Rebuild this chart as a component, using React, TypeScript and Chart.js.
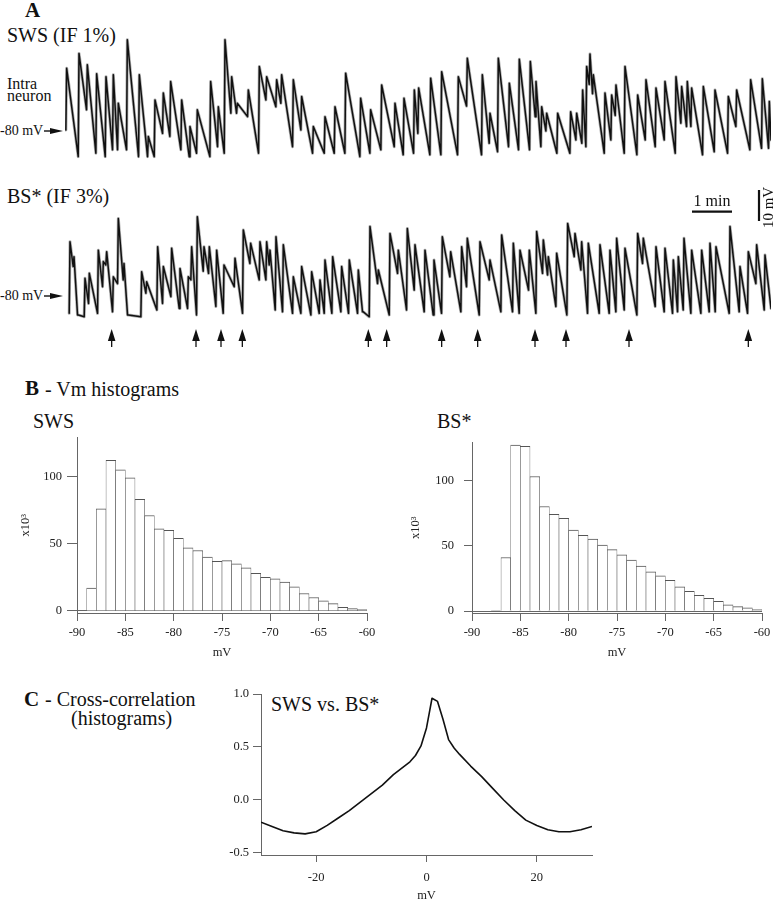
import React, { useEffect, useRef } from "react";
import { Chart, registerables } from "chart.js";

Chart.register(...registerables);

const SERIF = '"Liberation Serif", "Times New Roman", Times, serif';
Chart.defaults.font.family = SERIF;
Chart.defaults.color = "#222";

// ---------- Panel A : intracellular traces ----------
// Each up-state event: onset time (s), peak Vm (mV), Vm just before the rise (mV)
const SWS_UP_T = [2.5,21,33.5,47.5,61.5,72.5,80,93.5,111.5,125,135,147.5,158.5,175,187.5,198.5,218.5,230,240,250,258.5,275,291.5,302.5,317.5,325,342.5,355,372.5,390,405,421,443.5,458.5,475,495,508.5,524,530.5,548.5,565,590,603.5,626,637.5,650,666.5,681.5,698,706.5,715,722.5,739,758.5,767.5,776.5,782.5,787.5,792.5,810,820,826.5,840,859,871.5,886.5,900,916.5,925,933.5,940,957.5,975,995,1007.5,1028.5,1046,1056.5];
const SWS_PEAK = [-59.8,-55.0,-58.7,-61.6,-62.5,-61.9,-71.1,-50.6,-61.9,-81.8,-70.0,-67.8,-64.1,-70.0,-78.6,-73.2,-64.1,-72.2,-50.6,-62.5,-71.1,-66.8,-59.2,-62.5,-63.5,-61.9,-63.5,-68.9,-78.6,-75.4,-72.2,-61.4,-69.5,-73.2,-65.2,-71.1,-69.5,-66.8,-66.2,-63.0,-60.9,-62.5,-56.6,-61.9,-74.3,-56.6,-64.6,-56.9,-57.6,-64.1,-72.2,-74.3,-74.3,-73.8,-74.3,-66.8,-59.2,-55.2,-61.9,-67.8,-68.4,-65.2,-59.2,-68.4,-63.5,-66.2,-64.1,-62.5,-65.7,-64.1,-66.2,-65.7,-66.8,-68.9,-66.8,-63.5,-63.2,-70.5];
const SWS_PRE = [-79.7,-88.3,-73.2,-87.2,-88.3,-86.1,-86.1,-86.1,-88.3,-88.3,-88.3,-80.8,-81.8,-86.1,-88.3,-87.2,-88.3,-85.1,-87.2,-74.3,-74.3,-75.4,-87.2,-70.0,-72.2,-71.1,-85.1,-79.7,-87.2,-87.2,-87.2,-87.2,-88.3,-87.2,-86.1,-85.1,-87.7,-87.2,-80.8,-87.7,-87.7,-87.7,-72.0,-87.7,-84.0,-86.7,-85.1,-86.1,-86.1,-75.4,-85.1,-80.0,-87.2,-87.2,-82.9,-84.0,-85.1,-65.0,-68.0,-87.2,-82.9,-75.0,-87.2,-87.7,-82.9,-85.1,-82.9,-87.2,-77.5,-78.6,-78.6,-87.7,-86.7,-87.2,-78.6,-86.1,-85.6,-85.6];
const SWS_END_VM = -82.9;

const BS_UP_T = [7.5,13.5,20,30,36.5,50,57.5,62.5,72.5,80,88.5,95,115,122.5,139,147.5,160,172.5,185,190,198.5,208.5,216.5,227.5,238.5,255,267.5,278.5,292.5,302.5,307.5,316.5,327.5,342.5,355,370,382.5,390,401.5,415,426.5,440,447.5,457.5,470,487.5,500,513.5,525,540,553.5,566,578.5,595,603.5,622.5,637.5,655,672.5,682.5,696.5,707.5,717.5,725,737.5,754,765,775,785,802.5,817.5,827.5,840,859,867.5,886.5,900,912.5,920,928.5,940,955,967.5,976.5,997.5,1012.5,1025,1037.5,1050];
const BS_PEAK = [-62.5,-67.3,-86.1,-74.3,-72.7,-65.2,-68.9,-65.7,-73.8,-55.0,-69.5,-86.1,-72.2,-75.4,-64.1,-70.5,-64.6,-71.1,-73.8,-64.1,-54.4,-64.1,-64.1,-65.2,-70.0,-67.8,-58.7,-63.0,-62.5,-62.5,-65.2,-60.9,-63.5,-73.8,-70.5,-72.2,-74.8,-68.4,-67.3,-70.5,-68.4,-71.6,-85.1,-57.6,-71.6,-59.8,-65.2,-58.2,-63.5,-65.2,-68.4,-60.9,-65.7,-64.1,-61.4,-62.5,-68.4,-60.3,-63.0,-65.2,-65.2,-59.2,-61.9,-67.3,-66.2,-56.6,-59.8,-62.5,-63.0,-63.5,-65.2,-61.4,-64.6,-59.8,-61.4,-64.1,-64.6,-68.4,-67.3,-61.4,-65.2,-65.2,-63.0,-64.1,-57.6,-70.5,-65.7,-63.5,-66.8];
const BS_PRE = [-85.6,-70.5,-86.1,-86.7,-82.4,-85.6,-77.0,-70.0,-85.1,-76.0,-74.8,-86.1,-86.7,-79.1,-84.5,-82.4,-80.2,-84.0,-84.0,-74.8,-86.1,-72.0,-72.7,-83.4,-85.6,-77.0,-85.6,-69.5,-74.8,-74.8,-70.0,-84.5,-85.1,-85.6,-85.6,-86.1,-85.6,-85.6,-85.6,-85.1,-85.6,-85.6,-85.1,-86.7,-76.0,-86.1,-72.7,-84.5,-78.1,-85.1,-86.1,-85.6,-73.8,-85.1,-77.0,-86.1,-74.8,-85.1,-85.1,-85.6,-78.1,-85.6,-72.7,-73.2,-83.4,-86.1,-67.3,-71.6,-85.6,-85.6,-85.6,-85.1,-84.5,-86.1,-69.5,-83.4,-85.1,-85.6,-85.1,-84.5,-85.6,-85.6,-85.1,-85.1,-85.6,-85.1,-85.6,-76.0,-84.5];
const BS_END_VM = -84.0;

const BS_EVENT_TIMES_S = [70, 196.5, 234, 266, 455, 482.5, 565, 619, 705, 751.5, 846, 1025];

const TRACE_T_MAX = 1059;
const RISE_S = 1.2;
const SCALEBAR_T_START_S = 940.5;
const SCALEBAR_T_LEN_S = 60; // 1 min
const SCALEBAR_H_VM = -52.8;
const SCALEBAR_V_T_S = 1041;
const SCALEBAR_V_TOP_VM = -45.8;
const SCALEBAR_V_LEN_MV = 10; // 10 mV
const REST_VM = -80;

// ---------- Panel B : Vm histograms (1 mV bins, counts x10^3) ----------
const VM_BIN_CENTERS = [-89.5,-88.5,-87.5,-86.5,-85.5,-84.5,-83.5,-82.5,-81.5,-80.5,-79.5,-78.5,-77.5,-76.5,-75.5,-74.5,-73.5,-72.5,-71.5,-70.5,-69.5,-68.5,-67.5,-66.5,-65.5,-64.5,-63.5,-62.5,-61.5,-60.5];
const SWS_HIST = [0,17,76,112,105,99,83,71,61,60,54,47,45,40,37,37.5,35,32,28,25,24,21.5,18,13,10,7.5,5.5,2.7,1.7,1];
const BS_HIST = [0,0,0.5,41,127,126,103,80,74,71,62,58,55,50.5,47,43,39,34.5,30,27,23.5,18.6,15,12,9.7,7.5,4.8,3.4,2.4,1.2];
const HIST_X_TICKS = [-90,-85,-80,-75,-70,-65,-60];
const HIST_Y_TICKS = [0,50,100];

// ---------- Panel C : cross-correlation ----------
const CC_LAG_MV = [-30,-28,-26,-24,-22,-20,-18,-16,-14,-12,-10,-8,-6,-4,-3,-2,-1,0,0.5,1,2,3,4,5,6,8,10,12,14,16,18,20,22,24,26,28,30];
const CC_R = [-0.21,-0.25,-0.29,-0.31,-0.32,-0.30,-0.24,-0.17,-0.10,-0.02,0.06,0.14,0.24,0.32,0.36,0.42,0.51,0.68,0.82,0.96,0.93,0.76,0.57,0.49,0.43,0.32,0.22,0.11,0.00,-0.10,-0.19,-0.24,-0.28,-0.30,-0.30,-0.28,-0.25];
const CC_X_TICKS = [-20,0,20];
const CC_Y_TICKS = [-0.5,0,0.5,1.0];

const AXIS = "#666";

function ChartCanvas(props: { left: number; top: number; width: number; height: number; make: () => any }) {
  const ref = useRef<HTMLCanvasElement | null>(null);
  useEffect(() => {
    const chart = new Chart(ref.current as HTMLCanvasElement, props.make());
    return () => chart.destroy();
  }, []);
  return (
    <canvas
      ref={ref}
      width={props.width}
      height={props.height}
      style={{ position: "absolute", left: props.left, top: props.top, width: props.width, height: props.height }}
    />
  );
}

function tracePoints(upT: number[], peak: number[], pre: number[], endVm: number) {
  const pts: { x: number; y: number }[] = [];
  for (let i = 0; i < upT.length; i++) {
    pts.push({ x: upT[i] - RISE_S, y: pre[i] });
    pts.push({ x: upT[i], y: peak[i] });
  }
  pts.push({ x: TRACE_T_MAX, y: endVm });
  return pts;
}

function traceConfig(pts: { x: number; y: number }[], yMin: number, yMax: number, padRight: number, plugins: any[]) {
  return {
    type: "line",
    data: {
      datasets: [
        { data: pts, borderColor: "#111", borderWidth: 1.5, borderJoinStyle: "round", borderCapStyle: "round", pointRadius: 0, tension: 0, order: 0 },
        { data: pts, borderColor: "rgba(110,110,110,0.55)", borderWidth: 3, borderJoinStyle: "round", borderCapStyle: "round", pointRadius: 0, tension: 0, order: 1 },
      ],
    },
    options: {
      animation: false,
      responsive: false,
      maintainAspectRatio: false,
      layout: { padding: { left: 0, right: padRight, top: 0, bottom: 0 } },
      plugins: { legend: { display: false }, tooltip: { enabled: false } },
      scales: {
        x: { type: "linear", display: false, min: 0, max: TRACE_T_MAX },
        y: { type: "linear", display: false, min: yMin, max: yMax },
      },
    },
    plugins,
  };
}

const bsOverlay = {
  id: "bsOverlay",
  afterDatasetsDraw(chart: any) {
    const { ctx } = chart;
    const xs = chart.scales.x;
    const ys = chart.scales.y;
    ctx.save();
    ctx.fillStyle = "#111";
    ctx.strokeStyle = "#111";
    const base = ys.getPixelForValue(REST_VM);
    for (const t of BS_EVENT_TIMES_S) {
      const px = xs.getPixelForValue(t);
      const tip = base + 33;
      ctx.beginPath();
      ctx.moveTo(px, tip);
      ctx.lineTo(px - 3.8, tip + 12);
      ctx.lineTo(px + 3.8, tip + 12);
      ctx.closePath();
      ctx.fill();
      ctx.lineWidth = 1.3;
      ctx.beginPath();
      ctx.moveTo(px, tip + 10);
      ctx.lineTo(px, tip + 18);
      ctx.stroke();
    }
    // time scale bar
    const x0 = xs.getPixelForValue(SCALEBAR_T_START_S);
    const x1 = xs.getPixelForValue(SCALEBAR_T_START_S + SCALEBAR_T_LEN_S);
    const yb = ys.getPixelForValue(SCALEBAR_H_VM);
    ctx.lineWidth = 2.2;
    ctx.beginPath();
    ctx.moveTo(x0, yb);
    ctx.lineTo(x1, yb);
    ctx.stroke();
    ctx.font = "16px " + SERIF;
    ctx.textAlign = "center";
    ctx.textBaseline = "alphabetic";
    ctx.fillText("1 min", (x0 + x1) / 2, yb - 6);
    // voltage scale bar
    const vx = xs.getPixelForValue(SCALEBAR_V_T_S);
    const vy0 = ys.getPixelForValue(SCALEBAR_V_TOP_VM);
    const vy1 = ys.getPixelForValue(SCALEBAR_V_TOP_VM - SCALEBAR_V_LEN_MV);
    ctx.beginPath();
    ctx.moveTo(vx, vy0);
    ctx.lineTo(vx, vy1);
    ctx.stroke();
    ctx.save();
    ctx.translate(vx + 14, (vy0 + vy1) / 2 + 2);
    ctx.rotate(-Math.PI / 2);
    ctx.font = "15px " + SERIF;
    ctx.fillText("10 mV", 0, 0);
    ctx.restore();
    ctx.restore();
  },
};

function histConfig(counts: number[], tickLen: number, tickPad: number, titlePad: number) {
  return {
    type: "bar",
    data: {
      datasets: [
        {
          data: VM_BIN_CENTERS.map((c, i) => ({ x: c, y: counts[i] })),
          backgroundColor: "#fff",
          borderColor: "#555",
          borderWidth: { top: 1, left: 0.6, right: 0.6, bottom: 0 },
          borderSkipped: false,
          barPercentage: 1,
          categoryPercentage: 1,
        },
      ],
    },
    options: {
      animation: false,
      responsive: false,
      maintainAspectRatio: false,
      layout: { padding: { left: 0, right: 13, top: 8, bottom: 0 } },
      plugins: { legend: { display: false }, tooltip: { enabled: false } },
      scales: {
        x: {
          type: "linear",
          min: -90,
          max: -60,
          offset: false,
          afterBuildTicks: (s: any) => { s.ticks = HIST_X_TICKS.map((v) => ({ value: v })); },
          afterFit: (s: any) => { s.height = 52; },
          grid: { offset: false, drawOnChartArea: false, drawTicks: true, tickLength: 8, tickColor: AXIS },
          border: { display: true, color: AXIS, width: 1 },
          ticks: { font: { size: 12.5 }, padding: 4, maxRotation: 0, autoSkip: false, color: "#222" },
          title: { display: true, text: "mV", font: { size: 12.5 }, padding: { top: 0, bottom: 5 }, color: "#222" },
        },
        y: {
          type: "linear",
          min: -1.5,
          max: 129,
          afterBuildTicks: (s: any) => { s.ticks = HIST_Y_TICKS.map((v) => ({ value: v })); },
          afterFit: (s: any) => { s.width = 77; },
          grid: {
            drawOnChartArea: true,
            color: (c: any) => (c.tick && c.tick.value === 0 ? AXIS : "rgba(0,0,0,0)"),
            tickColor: AXIS,
            tickLength: tickLen,
          },
          border: { display: true, color: AXIS, width: 1 },
          ticks: { font: { size: 12.5 }, padding: tickPad, color: "#222" },
          title: { display: true, text: "x10³", font: { size: 12.5 }, padding: { top: titlePad, bottom: 0 }, color: "#222" },
        },
      },
    },
  };
}

function ccConfig() {
  return {
    type: "line",
    data: {
      datasets: [
        {
          data: CC_LAG_MV.map((l, i) => ({ x: l, y: CC_R[i] })),
          borderColor: "#111",
          borderWidth: 1.6,
          borderJoinStyle: "round",
          pointRadius: 0,
          tension: 0,
        },
      ],
    },
    options: {
      animation: false,
      responsive: false,
      maintainAspectRatio: false,
      layout: { padding: { left: 0, right: 18, top: 14, bottom: 0 } },
      plugins: { legend: { display: false }, tooltip: { enabled: false } },
      scales: {
        x: {
          type: "linear",
          min: -30,
          max: 30,
          afterBuildTicks: (s: any) => { s.ticks = CC_X_TICKS.map((v) => ({ value: v })); },
          afterFit: (s: any) => { s.height = 48; },
          grid: { drawOnChartArea: false, drawTicks: true, tickLength: 7, tickColor: AXIS },
          border: { display: true, color: AXIS, width: 1 },
          ticks: { font: { size: 12.5 }, padding: 8, maxRotation: 0, color: "#222" },
          title: { display: true, text: "mV", font: { size: 12.5 }, padding: { top: 0, bottom: 0 }, color: "#222" },
        },
        y: {
          type: "linear",
          min: -0.519,
          max: 1.0,
          afterBuildTicks: (s: any) => { s.ticks = CC_Y_TICKS.map((v) => ({ value: v })); },
          afterFit: (s: any) => { s.width = 81; },
          grid: { drawOnChartArea: false, drawTicks: true, tickLength: 8, tickColor: AXIS },
          border: { display: true, color: AXIS, width: 1 },
          ticks: { font: { size: 12.5 }, padding: 4, color: "#222", callback: (v: any) => Number(v).toFixed(1) },
        },
      },
    },
  };
}

function Label(p: { text: string; x: number; base: number; size: number; bold?: boolean }) {
  return (
    <div
      style={{
        position: "absolute",
        left: p.x,
        top: p.base - p.size * 0.8375,
        fontSize: p.size,
        lineHeight: 1,
        fontFamily: SERIF,
        fontWeight: p.bold ? "bold" : "normal",
        whiteSpace: "nowrap",
        color: "#111",
      }}
    >
      {p.text}
    </div>
  );
}

function RestArrow(p: { y: number }) {
  return (
    <>
      <Label text="-80 mV" x={0} base={p.y + 5} size={14} />
      <svg style={{ position: "absolute", left: 44, top: p.y - 5 }} width={20} height={10}>
        <line x1={0} y1={5} x2={9} y2={5} stroke="#111" strokeWidth={1.4} />
        <polygon points="6,2 19,5 6,8" fill="#111" />
      </svg>
    </>
  );
}

export default function App() {
  return (
    <div
      style={{
        position: "absolute",
        left: 0,
        top: 0,
        width: 777,
        height: 900,
        overflow: "hidden",
        background: "#fff",
        fontFamily: SERIF,
      }}
    >
      {/* Panel A */}
      <Label text="A" x={25} base={18} size={21} bold />
      <Label text="SWS (IF 1%)" x={7} base={42} size={20} />
      <Label text="Intra" x={7} base={89} size={16} />
      <Label text="neuron" x={7} base={101} size={16} />
      <RestArrow y={131} />
      <ChartCanvas left={65} top={30} width={706} height={135}
        make={() => traceConfig(tracePoints(SWS_UP_T, SWS_PEAK, SWS_PRE, SWS_END_VM), -91.0, -47.45, 0, [])} />

      <Label text="BS* (IF 3%)" x={7} base={203} size={20} />
      <RestArrow y={296} />
      <ChartCanvas left={65} top={185} width={716} height={165}
        make={() => traceConfig(tracePoints(BS_UP_T, BS_PEAK, BS_PRE, BS_END_VM), -97.42, -44.19, 10, [bsOverlay])} />

      {/* Panel B */}
      <Label text="B" x={25} base={396} size={21} bold />
      <Label text="- Vm histograms" x={45} base={396} size={20} />
      <Label text="SWS" x={33} base={428} size={20} />
      <Label text="BS*" x={437} base={428} size={20} />
      <ChartCanvas left={0} top={425} width={380} height={240} make={() => histConfig(SWS_HIST, 10, 5, 18)} />
      <ChartCanvas left={395} top={425} width={380} height={240} make={() => histConfig(BS_HIST, 8, 10, 13.5)} />

      {/* Panel C */}
      <Label text="C" x={24} base={707} size={21} bold />
      <Label text="- Cross-correlation" x={45} base={706} size={20} />
      <Label text="(histograms)" x={71} base={725} size={20} />
      <Label text="SWS vs. BS*" x={271} base={711} size={20} />
      <ChartCanvas left={180} top={680} width={430} height={223} make={() => ccConfig()} />
    </div>
  );
}
